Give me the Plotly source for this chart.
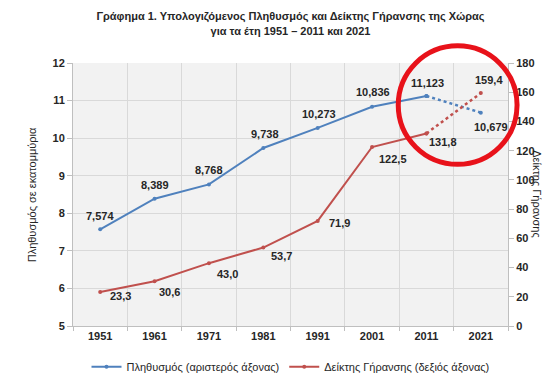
import plotly.graph_objects as go

# ---- data ----
years = ["1951", "1961", "1971", "1981", "1991", "2001", "2011", "2021"]
population = [7.574, 8.389, 8.768, 9.738, 10.273, 10.836, 11.123, 10.679]
aging_index = [23.3, 30.6, 43.0, 53.7, 71.9, 122.5, 131.8, 159.4]
left_ticks = [5, 6, 7, 8, 9, 10, 11, 12]
right_ticks = [0, 20, 40, 60, 80, 100, 120, 140, 160, 180]

title_text = ("Γράφημα 1. Υπολογιζόμενος Πληθυσμός και Δείκτης Γήρανσης της Χώρας<br>"
              "για τα έτη 1951 – 2011 και 2021")
pop_name = "Πληθυσμός (αριστερός άξονας)"
aging_name = "Δείκτης Γήρανσης (δεξιός άξονας)"
left_title = "Πληθυσμός σε εκατομμύρια"
right_title = "Δείκτης Γήρανσης"

# label offsets (px) for data labels
pop_dx = [0, 0, 0, 2, 1, 1, 1, 10]
pop_dy = [13, 14, 14, 14, 14, 15, 13, -14]
aging_dx = [20, 15, 19, 18, 22, 21, 17, 8]
aging_dy = [-4, -11, -11, -8, -2, -12, -9, 13]

BLUE = "#4f81bd"
RED = "#c0504d"
FONT = "Liberation Sans"
TXT = "#262626"

fig = go.Figure()

# solid parts (1951-2011)
fig.add_trace(go.Scatter(x=years[:7], y=population[:7], mode="lines+markers",
                         name=pop_name, line=dict(color=BLUE, width=2),
                         marker=dict(size=4, color=BLUE), yaxis="y"))
fig.add_trace(go.Scatter(x=years[:7], y=aging_index[:7], mode="lines+markers",
                         name=aging_name, line=dict(color=RED, width=2),
                         marker=dict(size=4, color=RED), yaxis="y2"))
# dotted projections (2011-2021)
fig.add_trace(go.Scatter(x=years[6:], y=population[6:], mode="lines+markers",
                         showlegend=False, line=dict(color=BLUE, width=2.5, dash="dot"),
                         marker=dict(size=4, color=BLUE), yaxis="y"))
fig.add_trace(go.Scatter(x=years[6:], y=aging_index[6:], mode="lines+markers",
                         showlegend=False, line=dict(color=RED, width=2.5, dash="dot"),
                         marker=dict(size=4, color=RED), yaxis="y2"))

annotations = []
for i, yr in enumerate(years):
    annotations.append(dict(x=i, y=population[i], xref="x", yref="y",
                            text=f"{population[i]:.3f}".replace(".", ","),
                            showarrow=False, xshift=pop_dx[i], yshift=pop_dy[i],
                            xanchor="center", yanchor="middle",
                            font=dict(family=FONT, size=11, color=TXT, weight="bold")))
    annotations.append(dict(x=i, y=aging_index[i], xref="x", yref="y2",
                            text=f"{aging_index[i]:.1f}".replace(".", ","),
                            showarrow=False, xshift=aging_dx[i], yshift=aging_dy[i],
                            xanchor="center", yanchor="middle",
                            font=dict(family=FONT, size=11, color=TXT, weight="bold")))

annotations.append(dict(x=-0.074, y=0.5, xref="paper", yref="paper", text=left_title,
                        textangle=-90, showarrow=False, xanchor="center", yanchor="middle",
                        xshift=-9,
                        font=dict(family=FONT, size=11, color=TXT)))
annotations.append(dict(x=1.0995, y=0.5, xref="paper", yref="paper", text=right_title,
                        textangle=90, showarrow=False, xanchor="center", yanchor="middle",
                        xshift=-14,
                        font=dict(family=FONT, size=11, color=TXT)))

fig.update_layout(
    width=552, height=385,
    margin=dict(l=65, r=52, t=55, b=55),
    paper_bgcolor="white",
    plot_bgcolor="#f2f2f2",
    font=dict(family=FONT, size=11, color=TXT),
    title=dict(text=title_text, x=0.5, xref="paper", xanchor="center",
               y=0.968, yref="container", yanchor="top",
               font=dict(family=FONT, size=11, color=TXT, weight="bold")),
    showlegend=True,
    legend=dict(orientation="h", x=0.5, xanchor="center", y=-0.1, yanchor="top",
                yref="paper", font=dict(family=FONT, size=11, color=TXT),
                itemwidth=30, bgcolor="rgba(0,0,0,0)", tracegroupgap=0),
    xaxis=dict(type="category", tickson="boundaries", showgrid=True,
               gridcolor="#d9d9d9", gridwidth=1, showline=True, linecolor="#bfbfbf",
               ticks="outside", ticklen=4, tickcolor="#bfbfbf",
               tickfont=dict(family=FONT, size=11, color=TXT, weight="bold"),
               range=[-0.5, 7.5], zeroline=False),
    yaxis=dict(range=[5, 12], tickvals=left_ticks, showgrid=True, gridcolor="#d9d9d9",
               showline=True, linecolor="#bfbfbf", ticks="outside", ticklen=5,
               tickcolor="#bfbfbf", zeroline=False,
               tickfont=dict(family=FONT, size=11, color=TXT, weight="bold")),
    yaxis2=dict(range=[0, 180], tickvals=right_ticks, overlaying="y", side="right",
                showgrid=False, showline=True, linecolor="#bfbfbf", ticks="outside",
                ticklen=5, tickcolor="#bfbfbf", zeroline=False,
                tickfont=dict(family=FONT, size=11, color=TXT, weight="bold")),
    annotations=annotations,
    shapes=[dict(type="circle", xref="paper", yref="paper",
                 x0=(388 - 65) / 432, x1=(506 - 65) / 432,
                 y0=(330 - 161) / 275, y1=(330 - 37) / 275,
                 line=dict(color="#e8121a", width=5), layer="above")],
)

fig.write_html("out.html")
